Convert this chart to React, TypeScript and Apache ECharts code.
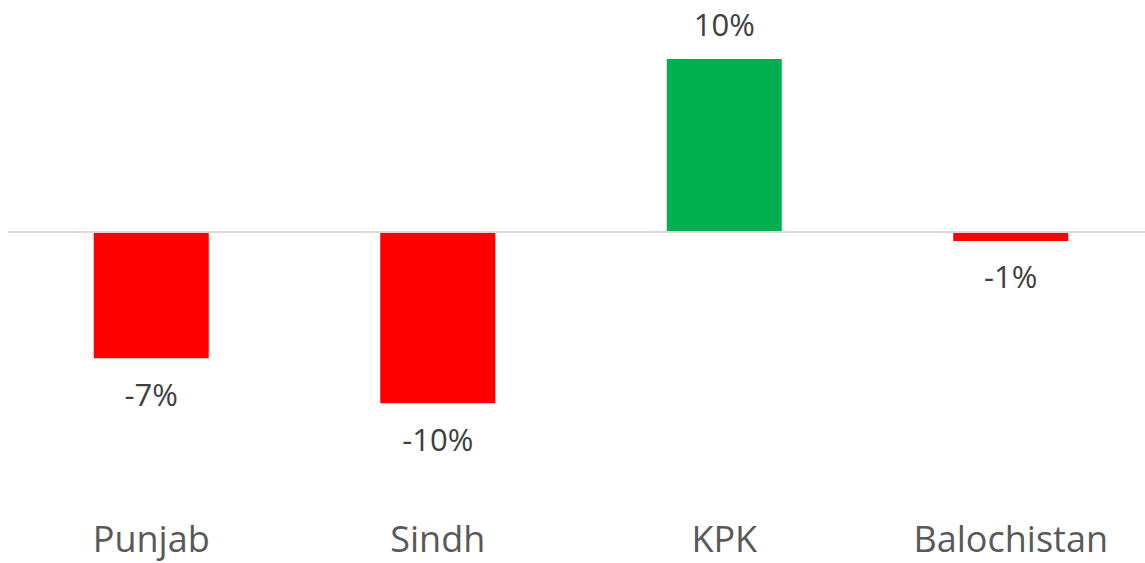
import React, { useEffect, useRef } from "react";
import * as echarts from "echarts";

const categories = ["Punjab", "Sindh", "KPK", "Balochistan"];
const values = [-7.3, -9.9, 10.0, -0.52];
const positiveColor = "#00b050";
const negativeColor = "#ff0000";

export default function App() {
  const ref = useRef<HTMLDivElement>(null);
  useEffect(() => {
    if (!ref.current) return;
    const chart = echarts.init(ref.current, null, { renderer: "svg" });
    chart.setOption({
      animation: false,
      backgroundColor: "#ffffff",
      textStyle: { fontFamily: "Open Sans" },
      grid: { left: 8, width: 1146, top: 24.4, height: 449.8, containLabel: false },
      xAxis: {
        type: "category",
        data: categories,
        axisLine: { show: false },
        axisTick: { show: false },
        axisLabel: {
          margin: 46,
          fontSize: 36,
          color: "#595959",
          fontFamily: "Open Sans",
        },
      },
      yAxis: {
        type: "value",
        min: -14,
        max: 12,
        show: false,
        splitLine: { show: false },
      },
      series: [
        {
          type: "bar",
          barWidth: 115,
          data: values.map((v) => ({
            value: v,
            itemStyle: { color: v >= 0 ? positiveColor : negativeColor },
            label: { position: v >= 0 ? "top" : "bottom" },
          })),
          label: {
            show: true,
            distance: 20,
            fontSize: 31,
            color: "#404040",
            fontFamily: "Open Sans",
            formatter: (p: any) => {
              const v = p.value as number;
              const r = Math.sign(v) * Math.round(Math.abs(v));
              return `${r}%`;
            },
          },
          markLine: {
            silent: true,
            symbol: "none",
            label: { show: false },
            lineStyle: { color: "#d9d9d9", width: 2, type: "solid" },
            data: [{ yAxis: 0 }],
          },
        },
      ],
    });
    return () => chart.dispose();
  }, []);
  return (
    <div
      style={{
        position: "fixed",
        left: 0,
        top: 0,
        width: 1145,
        height: 563,
        overflow: "hidden",
        background: "#ffffff",
      }}
    >
      <div ref={ref} style={{ width: 1160, height: 563 }} />
    </div>
  );
}
